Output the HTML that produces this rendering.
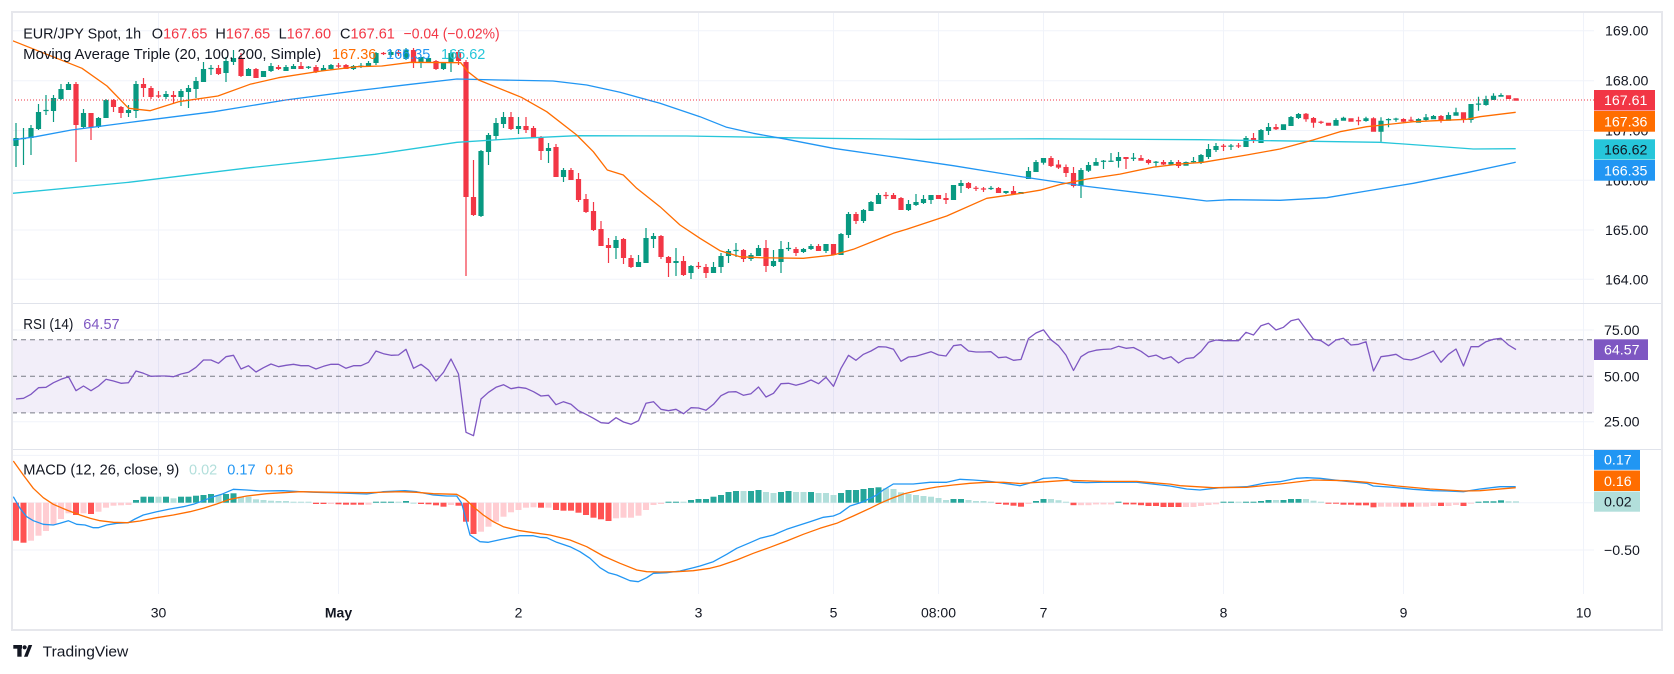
<!DOCTYPE html>
<html><head><meta charset="utf-8">
<style>
html,body{margin:0;padding:0;background:#fff;width:1674px;height:674px;overflow:hidden}
svg{display:block}
text{font-family:"Liberation Sans",Arial,sans-serif}
</style></head><body>
<svg width="1674" height="674" viewBox="0 0 1674 674" xmlns="http://www.w3.org/2000/svg">
<rect width="1674" height="674" fill="#fff"/>
<!-- grid -->
<g stroke="#f0f3fa" stroke-width="1">
<line x1="12" y1="30.7" x2="1594" y2="30.7"/><line x1="12" y1="80.7" x2="1594" y2="80.7"/>
<line x1="12" y1="130.5" x2="1594" y2="130.5"/><line x1="12" y1="180.3" x2="1594" y2="180.3"/>
<line x1="12" y1="230" x2="1594" y2="230"/><line x1="12" y1="279.3" x2="1594" y2="279.3"/>
<line x1="12" y1="330" x2="1594" y2="330"/><line x1="12" y1="421.7" x2="1594" y2="421.7"/>
<line x1="12" y1="455.4" x2="1594" y2="455.4"/><line x1="12" y1="502.7" x2="1594" y2="502.7"/><line x1="12" y1="550" x2="1594" y2="550"/>
<line x1="158.5" y1="12" x2="158.5" y2="594"/><line x1="338.5" y1="12" x2="338.5" y2="594"/>
<line x1="518.5" y1="12" x2="518.5" y2="594"/><line x1="698.5" y1="12" x2="698.5" y2="594"/>
<line x1="833.5" y1="12" x2="833.5" y2="594"/><line x1="938.5" y1="12" x2="938.5" y2="594"/>
<line x1="1043.5" y1="12" x2="1043.5" y2="594"/><line x1="1223.5" y1="12" x2="1223.5" y2="594"/>
<line x1="1403.5" y1="12" x2="1403.5" y2="594"/><line x1="1583.5" y1="12" x2="1583.5" y2="594"/>
</g>
<!-- RSI band -->
<rect x="12" y="339.7" width="1582" height="73.2" fill="#7e57c2" fill-opacity="0.1"/>
<g stroke="#787b86" stroke-width="1" stroke-dasharray="5 4">
<line x1="12" y1="339.7" x2="1594" y2="339.7"/><line x1="12" y1="376.3" x2="1594" y2="376.3"/><line x1="12" y1="412.9" x2="1594" y2="412.9"/>
</g>
<!-- pane separators -->
<g stroke="#e0e3eb" stroke-width="1">
<line x1="12" y1="303.5" x2="1662" y2="303.5"/><line x1="12" y1="449.5" x2="1662" y2="449.5"/>
</g>
<!-- candles -->
<g id="cd"></g>
<!-- moving averages -->
<g fill="none" stroke-width="1.3" stroke-linejoin="round">
<polyline stroke="#26c6da" points="12.5,193.3 128.6,182.3 250,167.7 375,154.3 457,142.3 520,138.3 576.7,135.7 686.7,136 820,138.3 920,139.3 1040,138.8 1200,139.7 1380,142.3 1473.3,149 1515.7,148.7"/>
<polyline stroke="#2196f3" points="12.5,140 35.7,136.7 71.4,130 142.9,120.7 214,111.7 285.7,100 357,90.7 410.7,84.3 457,79 500,80 553,81 586.7,85 620,92.3 660,103.3 700,116.7 726.7,127.3 753.3,133.3 786.7,139.3 833.3,148.3 886.7,156 953.3,165.7 1020,176.5 1086.7,186.4 1153.3,194.4 1180,197.7 1206.7,201 1230,199.7 1280,200.3 1326.7,197.7 1366.7,191 1413.3,183.3 1466.7,172.7 1515.7,162.3"/>
<polyline stroke="#ff6d00" points="12.5,40.7 82,68.3 107,86 128.6,108.3 150,110.7 178.6,101.7 217.9,96 250,84.3 278.6,77.7 321.4,71 357,66.7 382,66 410.7,62.3 460.7,62.7 467.9,71.7 478.6,80 521.4,97.3 546.7,111.7 576.7,135 593.3,151.7 607.3,170 623.3,175 636.7,188.3 660,206.7 680,225 700,238.3 720,250.7 740,256.7 760,257.7 803.3,258.3 833.3,255 853.3,249.3 893.3,233.3 906.7,229.3 946.7,216 986.7,198.3 1020,193.5 1040,190.2 1060,184.5 1086.7,179.1 1120,174.1 1153,167.2 1180,164 1203,162.3 1246.7,155 1280,149 1313,140 1340,131.7 1366.7,126.7 1413.3,121.7 1466.7,119.3 1480,116.7 1515.7,112.3"/>
</g>
<line x1="12" y1="100" x2="1594" y2="100" stroke="#f23645" stroke-width="1" stroke-dasharray="1 2"/>
<!-- RSI line -->
<g id="rsi"></g>
<!-- MACD histogram -->
<g id="hist"></g>
<g fill="none" stroke-width="1.3" stroke-linejoin="round">
<polyline stroke="#2196f3" points="13.3,496.7 20,508.3 26.7,516.7 33.3,520.7 43.3,524.3 53.3,525 60,523.3 68.3,520.7 76.7,524.3 85,525 93.3,527.7 98.3,527.7 106.7,525 116.7,523.3 128.3,522.7 135,519 143.3,515 156.7,511.7 170,509 183.3,506.7 193.3,504.3 203.3,500.7 213.3,496.7 221.7,494.3 233.3,489.3 246.7,490 260,491 283.3,490.7 300,491.7 316.7,492.3 333.3,492.7 350,493.3 366.7,494 383.3,491.7 405,490.7 416.7,491.7 433.3,495 446.7,496 456.7,496 461.7,503.3 470,535 480,541.7 488.3,542.3 503.3,539 520,535.7 533.3,535.7 540,537.3 546.7,537.7 556.7,542.3 570,546.7 580,551.7 590,558.3 600,567.7 608.3,572.7 616.7,575 630,580.7 638.3,581.7 646.7,577.7 653.3,573.3 666.7,572.7 680,571 693.3,567.7 700,566 713.3,561.7 726.7,554.3 736.7,548.3 750,542.7 760,538.3 773.3,535 786.7,529.3 796.7,526 810,521.7 823.3,517.3 833.3,516 840,513.3 850,506 863.3,501.7 876.7,495 883.3,490 893.3,484 913.3,484 930,482.3 946.7,482.3 960,479.3 973.3,480 986.7,481 1000,482.7 1020,485.7 1030,483 1043.3,478.4 1056.7,477.6 1066.7,479.1 1073.3,482.2 1086.7,482.6 1103.3,482.2 1136.7,482.2 1153.3,484.1 1170,486 1186.7,489 1200,490 1220,487.7 1246.7,486.7 1266.7,482.7 1280,481.7 1296.7,478.3 1306.7,477.7 1320,478.3 1340,480.7 1366.7,483.3 1373.3,486 1393.3,487.3 1413.3,489.3 1433.3,490.7 1446.7,491 1463.3,491.7 1480,489 1500,486.7 1515.7,486.7"/>
<polyline stroke="#ff6d00" points="13.3,461 23.3,475 33.3,488.3 43.3,497.7 53.3,504.3 66.7,510 80,515 90,518.3 100,520.7 113.3,522.3 126.7,522.7 140,521 156.7,517.7 173.3,515 190,511.7 203.3,508.3 216.7,504 230,499.3 246.7,496 266.7,493.7 283.3,492.7 300,491.7 333.3,492.3 366.7,492.7 400,491.7 416.7,492.3 433.3,493.7 456.7,494.3 465,499 473.3,506.7 483.3,515 493.3,521.7 503.3,526.7 513.3,529.3 520,530.7 533.3,532.7 550,535 570,540 586.7,546.7 603.3,556 620,563.3 636.7,570 646.7,571.7 660,572 676.7,571.7 693.3,570.7 710,568.3 720,565.7 736.7,560 753.3,553.3 770,547.3 786.7,541 803.3,534.3 820,528.3 836.7,523.3 853.3,516 870,508.3 880,503.3 890,499 903.3,494 920,490 936.7,487 953.3,485 970,483.3 986.7,482.3 1003.3,482.3 1020,483.5 1040,482.2 1066.7,480.3 1103.3,481.4 1136.7,481.4 1170,484.1 1180,485.7 1213.3,487.7 1246.7,487.3 1280,484 1313.3,480 1346.7,480.7 1366.7,482.3 1396.7,486 1430,489 1463.3,491 1480,490.7 1515.7,487.7"/>
</g>
<!-- legends -->
<g font-size="14.5" fill="#131722">
<text x="23.2" y="38.5" textLength="118" lengthAdjust="spacingAndGlyphs">EUR/JPY Spot, 1h</text>
<text x="151.8" y="38.5">O<tspan fill="#f23645">167.65</tspan></text>
<text x="215.4" y="38.5">H<tspan fill="#f23645">167.65</tspan></text>
<text x="278.6" y="38.5">L<tspan fill="#f23645">167.60</tspan></text>
<text x="340" y="38.5">C<tspan fill="#f23645">167.61</tspan></text>
<text x="403.6" y="38.5" fill="#f23645" textLength="96" lengthAdjust="spacingAndGlyphs">−0.04 (−0.02%)</text>
<text x="23.2" y="59.2" textLength="298" lengthAdjust="spacingAndGlyphs">Moving Average Triple (20, 100, 200, Simple)</text>
<text x="332" y="59.2" fill="#ff6d00">167.36</text>
<text x="386" y="59.2" fill="#2196f3">166.35</text>
<text x="441" y="59.2" fill="#26c6da">166.62</text>
<text x="23.3" y="329.2" textLength="50" lengthAdjust="spacingAndGlyphs">RSI (14)</text>
<text x="83.3" y="329.2" fill="#7e57c2">64.57</text>
<text x="23.3" y="474.5" textLength="156" lengthAdjust="spacingAndGlyphs">MACD (12, 26, close, 9)</text>
<text x="189" y="474.5" fill="#b2dfdb">0.02</text>
<text x="227.3" y="474.5" fill="#2196f3">0.17</text>
<text x="265" y="474.5" fill="#ff6d00">0.16</text>
</g>
<!-- price axis -->
<g font-size="14.2" fill="#131722">
<text x="1605" y="35.7">169.00</text>
<text x="1605" y="85.7">168.00</text>
<text x="1605" y="135.5">167.00</text>
<text x="1605" y="185.3">166.00</text>
<text x="1605" y="235">165.00</text>
<text x="1605" y="284.3">164.00</text>
<text x="1604" y="335">75.00</text>
<text x="1604" y="381.3">50.00</text>
<text x="1604" y="426.7">25.00</text>
<text x="1604" y="555">−0.50</text>
</g>
<rect x="1594" y="90" width="61" height="20.5" fill="#f23645"/>
<rect x="1594" y="111" width="61" height="20.7" fill="#ff6d00"/>
<rect x="1594" y="139.3" width="61" height="20.3" fill="#26c6da"/>
<rect x="1594" y="160" width="61" height="20.7" fill="#2196f3"/>
<rect x="1594" y="339.3" width="54" height="20.7" fill="#7e57c2"/>
<rect x="1594" y="450" width="46" height="19.8" fill="#2196f3"/>
<rect x="1594" y="470.5" width="46" height="20.5" fill="#ff6d00"/>
<rect x="1594" y="491.5" width="46" height="20.2" fill="#b2dfdb"/>
<g font-size="14.2" fill="#ffffff">
<text x="1604" y="105">167.61</text>
<text x="1604" y="126.3">167.36</text>
<text x="1604" y="154.3" fill="#131722">166.62</text>
<text x="1604" y="175.3">166.35</text>
<text x="1604" y="354.7">64.57</text>
<text x="1604" y="464.7">0.17</text>
<text x="1604" y="485.8">0.16</text>
<text x="1604" y="506.7" fill="#131722">0.02</text>
</g>
<!-- time axis -->
<g font-size="14" fill="#131722" text-anchor="middle">
<text x="158.5" y="617.7">30</text>
<text x="338.5" y="617.7" font-weight="bold">May</text>
<text x="518.5" y="617.7">2</text>
<text x="698.5" y="617.7">3</text>
<text x="833.5" y="617.7">5</text>
<text x="938.5" y="617.7">08:00</text>
<text x="1043.5" y="617.7">7</text>
<text x="1223.5" y="617.7">8</text>
<text x="1403.5" y="617.7">9</text>
<text x="1583.5" y="617.7">10</text>
</g>
<!-- frame -->
<rect x="12" y="12" width="1650" height="618" fill="none" stroke="#e6e7ec" stroke-width="2"/>
<!-- logo -->
<g fill="#131722">
<rect x="13.3" y="645" width="8.7" height="3.7"/>
<rect x="17.3" y="645" width="4.3" height="11.7"/>
<circle cx="24.6" cy="647.3" r="2.1"/>
<polygon points="28.6,645 32.2,645 27.6,656.7 24,656.7"/>
<text x="42.7" y="656.5" font-size="15.2" textLength="85.6" lengthAdjust="spacingAndGlyphs">TradingView</text>
</g>
</svg>
<script>
(function(){
var NS='http://www.w3.org/2000/svg';
function X(i){return 16+7.5*i;}
function add(gid,t,a){var e=document.createElementNS(NS,t);for(var k in a)e.setAttribute(k,a[k]);document.getElementById(gid).appendChild(e);return e;}
var C=[[146,138,123,167],[139,138,128,165],[138,128,125,155],[129,112,104,130],[111,110,95,115],[111,98,95,122],[99,89,84,100],[90,84,82,90],[84,125,82,162],[127,113,109,128],
[113,127,113,140],[127,118,117,128],[118,100,99,118],[100,107,99,112],[107,113,106,118],[113,110,105,117],[111,84,81,118],[84,88,78,97],[88,97,86,99],[95.5,96.5,91,98],
[97,94,91,99],[95,97,91,103],[97,91,89,106],[92,88,85,108],[89,81,77,98],[82,69,62,82],[69,68,65,75],[68,74,65,75],[73,61,57,82],[62,58,50,65],
[58,76,53,77],[76,69,68,76],[69,78,68,78],[77,71,71,77],[71,66,63,72],[67,69,65,70],[71,67,65,71],[69,66,64,69],[66,69,62,69],[67.5,67,66,69],
[67,72,65,73],[71,68,65,71],[69,65,64,70],[65.5,66.5,63,68],[65,69,64,69],[69,66,65,70],[66.5,66,63,68],[66,63,61,67],[63,53,52,65],[53,54,52,55],
[55,52,50,57],[52,54,50,56],[59,49.5,48,60],[50,62,48,68],[62,57,57,68],[62,58,56,63],[61,69,60,70],[69,63,62,70],[63,53,50,72],[52,61,50,65],
[62,197,60,276],[197,215,160,216],[216,151,150,217],[152,135,133,165],[136,123,118,140],[124,117,112,128],[117,129,112,130],[129,126,117,134],[126,130,117,133],[128,138,126,138],
[137,151,136,160],[151,148,143,163],[147,177,144,177],[177,170,168,182],[170,180,168,180],[179,200,173,202],[199,212,194,213],[211,230,202,231],[229,246,221,246],[245,248,238,263],
[248,240,236,259],[239,258,238,264],[258,267,255,268],[267,262,255,267],[263,238,228,263],[239,236,233,248],[236,257,235,259],[257,263,256,277],[263,261,248,276],[261,275,256,276],
[273,266,265,279],[266,267,262,269],[267,273,264,278],[273,267,262,273],[267,256,253,273],[256,251,249,263],[251,250,243,257],[250,259,249,262],[259,255,253,261],[256,248,245,256],
[248,266,240,272],[266,261,250,267],[262,249,241,273],[249,248,242,251],[249,253,247,256],[252,249,248,253],[249,246,244,250],[246,251,244,251],[251,244,244,253],[244,255,244,255],
[255,234,233,255],[235,214,212,238],[214,221,212,224],[221,210,209,223],[211,202,201,211],[204,195,193,204],[195,196,192,199],[195,199,193,199],[198,210,197,210],[210,204,200,211],
[205,202,194,206],[203,199,195,204],[200,195,195,204],[195,199,195,199],[198,200,193,204],[200,185,185,200],[186,183,180,193],[183,188,182,189],[188,188.6,186,191],[188.5,189.5,187,192],
[189,188,186,190],[188,193,187,193],[193,191,191,194],[191,194,186,195],[194,192,192,194],[179,171,167,179],[172,162,160,172],[162.7,158,158,164.6],[158,166,156,167],[164.5,167.6,160,169],
[167,173,164.5,177],[173,186,167,187.5],[186,170,168,198],[170.7,165,162,172],[165.7,162,158,165.7],[161.5,161,160,169],[161.5,161,153,162],[161,157,152,167.6],[157,159,157,169],[158.5,158,153,161],
[158,160.7,155,160.7],[160,163,159,164.5],[162.5,162,161,167],[162,164.5,160,165],[164.5,162,160,164.5],[162,166,160,168],[165.7,162,161.5,165.7],[161.7,161.5,157,163],[163,155,154,164],[157,149,144,159],
[150,146,143,152],[146,146.5,144,151],[146.3,146,144,150],[145.7,146.2,143,148],[147,138,136,147],[138,140,133,143],[143,130,129,143],[131,127,123,135],[127,129.3,124,130],[130,124.3,124.3,130],
[126,117,116,126],[118,114,113,119],[113.7,119.3,113,121.7],[118,122.7,117,127.7],[122,122.5,120.7,124],[122.7,125.7,122.7,125.7],[125.7,120,118.3,125.7],[120.7,117.7,116.7,120.7],[118.3,121.7,118.3,121.7],[120.5,121,116.7,125.3],
[121,118.3,116.7,121.7],[118.3,131.7,117.3,131.7],[131.7,120.7,117.3,141.7],[120,119.3,118.3,127.3],[119.3,119,117.7,121.7],[119,121.7,118.3,122.3],[120,120.5,116.7,122.3],[122.7,119,118.3,122.7],[120,117.3,114,120.7],[119.3,116,115,119.3],
[116,120,115,122.7],[120.7,115,112.3,120.7],[115.7,112.3,107.7,115.7],[112.3,120,112.3,122.7],[120,104,104,122.7],[104.3,104,96.7,110.7],[105,99,95.7,105.7],[100,95.7,93.3,100],[96.7,95,93.3,96.7],[95.3,99,95.3,99],
[98.3,100.7,98.3,100.7]];
var g='',r='';
for(var i=0;i<C.length;i++){var o=C[i][0],c=C[i][1],h=C[i][2],l=C[i][3],x=X(i);
var t=Math.min(o,c),b=Math.max(o,c);if(b-t<1.2){var m=(t+b)/2;t=m-0.6;b=m+0.6;}
var hh=Math.min(h,t),ll=Math.max(l,b);
var p='M'+(x-0.6)+' '+hh+'H'+(x+0.6)+'V'+ll+'H'+(x-0.6)+'Z M'+(x-2.6)+' '+t+'H'+(x+2.6)+'V'+b+'H'+(x-2.6)+'Z ';
if(c<=o)g+=p;else r+=p;}
add('cd','path',{d:g,fill:'#089981'});add('cd','path',{d:r,fill:'#f23645'});

var R=[399,398.3,394.3,387.7,387.3,382.7,379.3,376.7,390.7,386,
390.7,386,379.3,381,383.3,382.7,371,373.3,376.3,376,
376,376.7,374,372.3,367.3,360,360,363.3,356.7,355.3,
369,365.7,372,367.7,364,366.7,365.3,364.3,365.7,365.7,
369,366.3,364.3,364.3,368.3,365.7,365.7,362.3,351,353.7,
355.3,355,349.3,368.3,364.3,370,381,372.3,359,374,
432.3,435.7,399,392.3,387.3,384.7,388.7,387.3,388.3,391.7,
396,395.3,404.7,401.7,404.3,410.7,414.3,418.3,422.7,423.3,
417.7,422,424.3,420.7,403.3,401.7,409.3,410.7,409.3,413.7,
407.7,408,410.3,404.3,395.7,392,391.7,395.3,393.7,387,
397,393.3,383.7,383.3,385.3,383.3,380,383.7,377.3,386.3,
368.3,355.3,360.3,354.3,351,346.7,347,349.3,361.3,357,
356.3,354,351.7,355,356,345.7,344.7,351,352,352,
351.7,357.7,357,360.3,359.5,338.5,333,329.9,339.8,345.6,
355.1,370.5,356.7,352.1,350.2,349.4,349,346.3,348.3,347.5,
351.3,356.7,355.1,359,356.7,363,358.5,357.7,351.5,342.3,
340,340.7,340.7,340.7,332.3,335,325.7,323.3,330,327.3,
320.7,319,329.3,339.3,340.7,345.7,340,338.3,345,344.3,
341.7,371,356.7,355.7,354.3,359,360,357.7,354.3,351,
362.3,354.3,349,366,346.7,346.7,341.7,339.3,338.3,345,
349.6];
var pts=[];for(i=0;i<R.length;i++)pts.push(X(i)+','+R[i]);
add('rsi','polyline',{points:pts.join(' '),fill:'none',stroke:'#7e57c2','stroke-width':'1.3','stroke-linejoin':'round'});

var H=[540.7,'R',542.7,'R',540.7,'P',535.7,'P',531,'P',525,'P',519,'P',513.3,'P',515,'R',513.3,'P',
514,'R',511.7,'P',507.7,'P',505.7,'P',505.3,'P',505,'P',500,'G',496.7,'G',496.7,'G',496.7,'L',
496.7,'G',498.3,'L',496.7,'G',496.7,'G',495.7,'G',495,'G',494,'G',495,'L',494,'G',493.3,'G',
496.7,'L',496.7,'L',499.3,'L',500,'L',500.7,'L',501,'L',501,'L',501.7,'L',502,'L',502,'L',
504,'R',504,'R',504,'P',504.3,'R',504.7,'R',504.7,'R',504.7,'R',504.7,'P',502,'G',502,'G',
502,'G',502,'L',501,'G',503.5,'L',504,'R',504.3,'R',505.3,'R',506.7,'R',505,'P',505.7,'R',
521.7,'R',534,'R',531.7,'P',526.7,'P',521.7,'P',516.7,'P',512.3,'P',510,'P',507.7,'P',507.3,'P',
507.7,'R',507.7,'P',510,'R',510.7,'R',510.7,'R',512.7,'R',515,'R',517.7,'R',519.3,'R',521,'R',
518.3,'P',517.7,'P',517.7,'P',515.7,'P',510,'P',505,'P',504,'P',502,'G',502,'G',502,'L',
500,'G',499,'G',499,'G',496.7,'G',495,'G',492,'G',491,'G',491,'L',491,'G',490,'G',
492,'L',493,'L',492,'G',491,'G',492,'L',492,'L',492,'G',493,'L',493,'L',495,'L',
493,'G',490,'G',490,'G',489,'G',488,'G',487.3,'G',488.3,'L',489,'L',492.3,'L',494,'L',
495,'L',496,'L',496.7,'L',498,'L',500,'L',499,'G',499,'G',500,'L',501,'L',501,'L',
502,'L',504,'R',504.7,'R',505.7,'R',506.7,'R',504,'P',501,'G',499,'G',499,'L',500.2,'L',
502.1,'L',505.2,'R',505.2,'P',505.2,'P',504.4,'P',504.4,'P',504.4,'P',502,'G',504.4,'R',504.4,'R',
505.2,'R',506,'R',506,'R',507,'R',507,'R',507,'R',507,'P',507,'P',506,'P',505,'P',
504.3,'P',502,'G',502,'G',502,'L',502,'G',502,'G',501,'G',500,'G',500,'L',500,'G',
499,'G',499,'G',499,'L',500.7,'L',502,'L',503.7,'R',503.7,'R',504.7,'R',504.7,'R',505.3,'R',
505.3,'R',507.3,'R',506.7,'P',506.7,'P',506.7,'P',506.7,'R',506.7,'R',506.7,'P',506.7,'P',506,'P',
506,'R',506,'P',505,'P',506,'R',503.5,'P',502,'G',501.3,'G',501.3,'G',500.3,'G',501.3,'L',
501.3,'L'];
var col={R:'#ff5252',P:'#ffcdd2',G:'#26a69a',L:'#b2dfdb'};
var Z=502.7;
for(i=0;i<H.length/2;i++){var y=H[2*i],cc=col[H[2*i+1]],x=X(i);var t2=Math.min(y,Z),b2=Math.max(y,Z);if(b2-t2<1){if(y<Z){t2=Z-1;b2=Z;}else{t2=Z;b2=Z+1;}}
add('hist','rect',{x:(x-3),y:t2,width:6,height:(b2-t2),fill:cc});}
})();
</script>
</body></html>
